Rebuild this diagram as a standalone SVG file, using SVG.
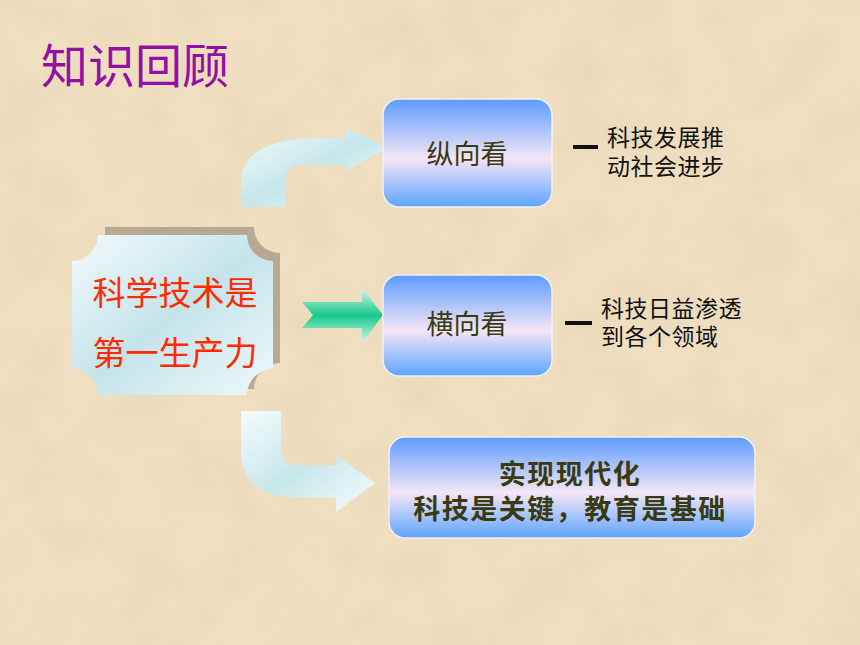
<svg xmlns="http://www.w3.org/2000/svg" width="860" height="645" viewBox="0 0 860 645">
<defs>
<filter id="tex" x="0" y="0" width="100%" height="100%">
<feTurbulence type="fractalNoise" baseFrequency="0.018" numOctaves="4" seed="7" result="n"/>
<feColorMatrix in="n" type="matrix" values="0 0 0 0 0.80  0 0 0 0 0.68  0 0 0 0 0.48  1.4 0 0 0 -0.55" result="c"/>
<feComposite in="c" in2="SourceGraphic" operator="in"/>
</filter>
<linearGradient id="boxg" x1="0" y1="0" x2="0" y2="1">
<stop offset="0" stop-color="#5c9cff"/>
<stop offset="0.55" stop-color="#f4e6f6"/>
<stop offset="1" stop-color="#5ea4ff"/>
</linearGradient>
<linearGradient id="plaque" x1="0" y1="0" x2="1" y2="1">
<stop offset="0" stop-color="#f2fafc"/>
<stop offset="0.5" stop-color="#c4e4ea"/>
<stop offset="1" stop-color="#eef8fa"/>
</linearGradient>
<linearGradient id="curv" x1="0" y1="0" x2="1" y2="1">
<stop offset="0" stop-color="#f4fcfd"/>
<stop offset="0.5" stop-color="#c6e6ea"/>
<stop offset="1" stop-color="#f6fcfd"/>
</linearGradient>
<linearGradient id="green" x1="0" y1="0" x2="0" y2="1">
<stop offset="0" stop-color="#d6f6ec"/>
<stop offset="0.5" stop-color="#18c88a"/>
<stop offset="1" stop-color="#d6f6ec"/>
</linearGradient>
<style>
.box{fill:url(#boxg);stroke:#f4f0f0;stroke-width:1.5}
.lbl{font-family:"Liberation Sans","Noto Sans CJK SC",sans-serif;fill:#3a3a12;text-anchor:middle}
.note{font-family:"Liberation Sans","Noto Sans CJK SC",sans-serif;fill:#111;font-size:23px;letter-spacing:0.5px}
.dash{stroke:#111;stroke-width:4}
</style>
</defs>
<rect x="0" y="0" width="860" height="645" fill="#efdfc0"/>
<rect x="0" y="0" width="860" height="645" fill="#fff" filter="url(#tex)"/>
<text x="41" y="83" font-family="Liberation Sans,'Noto Sans CJK SC',sans-serif" font-size="47" fill="#9410a4">知识回顾</text>

<g id="connectors">
<path d="M241,207 L241,182 C241,152 272,138 318,138 L345,138 L345,127 L387,148 L345,172 L345,165 L300,165 Q285,165 285,180 L285,207 Z" fill="url(#curv)"/>
<path d="M241,411 L281,411 L281,450 Q281,465 300,465 L336,465 L336,455 L375,483 L336,512 L336,498 L300,498 C262,498 241,480 241,452 Z" fill="url(#curv)"/>
<path d="M302,302 L362,302 L362,288 L383,315 L362,343 L362,328 L302,328 L313,315 Z" fill="url(#green)"/>
</g>

<g id="main">
<path d="M105,227 L254,227 A26,26 0 0 0 280,253 L280,363 A26,26 0 0 0 254,389 L105,389 Z" fill="#b8aa92"/>
<path d="M98,235 L247,235 A26,26 0 0 0 273,261 L273,369 A26,26 0 0 0 247,395 L98,395 A26,26 0 0 0 72,369 L72,261 A26,26 0 0 0 98,235 Z" fill="url(#plaque)"/>
<text x="175" y="305" font-family="Liberation Sans,'Noto Sans CJK SC',sans-serif" font-size="33" fill="#ff2a00" text-anchor="middle">科学技术是</text>
<text x="175" y="365" font-family="Liberation Sans,'Noto Sans CJK SC',sans-serif" font-size="33" fill="#ff2a00" text-anchor="middle">第一生产力</text>
</g>

<g id="zongxiang">
<rect class="box" x="383" y="99" width="169" height="108" rx="16"/>
<text class="lbl" x="467" y="164" font-size="27">纵向看</text>
<line class="dash" x1="573" y1="147" x2="598" y2="147"/>
<text class="note" x="607" y="146">科技发展推</text>
<text class="note" x="607" y="175">动社会进步</text>
</g>

<g id="hengxiang">
<rect class="box" x="383" y="275" width="169" height="101" rx="16"/>
<text class="lbl" x="467" y="334" font-size="27">横向看</text>
<line class="dash" x1="565" y1="323" x2="592" y2="323"/>
<text class="note" x="601" y="317">科技日益渗透</text>
<text class="note" x="601" y="345">到各个领域</text>
</g>

<g id="shixian">
<rect class="box" x="389" y="437" width="366" height="101" rx="16"/>
<text class="lbl" x="570" y="484" font-size="27" font-weight="bold" letter-spacing="1.5">实现现代化</text>
<text class="lbl" x="570" y="519" font-size="27" font-weight="bold" letter-spacing="1.5">科技是关键，教育是基础</text>
</g>
</svg>
